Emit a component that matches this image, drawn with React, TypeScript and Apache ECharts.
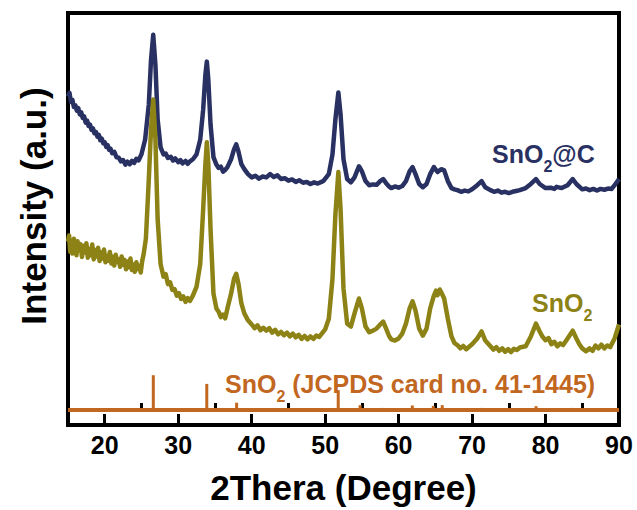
import React, { useEffect, useRef } from "react";
import * as echarts from "echarts";

// ---- Data: [2θ (degree), intensity (a.u.)] ----
const snO2CPattern: number[][] = [
  [15.0, 79.7], [15.2, 80.6], [15.4, 78.4], [15.6, 78.9], [15.8, 77.2], [16.0, 77.6], [16.2, 76.3], [16.4, 76.9],
  [16.6, 75.4], [16.8, 75.9], [17.0, 74.5], [17.2, 74.9], [17.4, 73.4], [17.6, 73.9], [17.8, 72.6], [18.0, 72.9],
  [18.2, 71.6], [18.4, 72.0], [18.6, 70.8], [18.8, 71.1], [19.0, 70.0], [19.2, 70.4], [19.4, 69.1], [19.6, 69.5],
  [19.8, 68.4], [20.0, 68.6], [20.2, 67.5], [20.4, 67.9], [20.6, 66.8], [20.8, 67.0], [21.0, 66.0], [21.3, 66.3],
  [21.6, 65.0], [21.9, 64.9], [22.2, 64.0], [22.5, 64.3], [22.8, 63.2], [23.1, 63.9], [23.4, 63.3], [23.7, 64.1],
  [24.0, 63.6], [24.3, 64.6], [24.6, 64.2], [25.0, 65.7], [25.5, 69.3], [26.0, 77.8], [26.3, 88.6], [26.6, 94.7],
  [26.9, 87.4], [27.2, 74.2], [27.6, 67.4], [28.0, 65.7], [28.3, 65.9], [28.6, 64.8], [29.0, 65.1], [29.3, 64.2],
  [29.6, 64.7], [30.0, 63.8], [30.3, 64.3], [30.6, 63.5], [31.0, 64.1], [31.3, 63.4], [31.6, 64.0], [32.0, 64.5],
  [32.5, 65.7], [33.0, 69.3], [33.4, 76.6], [33.7, 85.0], [33.9, 88.2], [34.1, 83.8], [34.4, 73.0], [34.8, 65.0],
  [35.2, 63.2], [35.5, 62.4], [35.8, 62.7], [36.1, 61.5], [36.4, 61.9], [36.7, 62.6], [37.2, 64.5], [37.6, 66.9],
  [37.9, 68.1], [38.2, 66.4], [38.6, 63.3], [39.0, 62.1], [39.5, 60.9], [40.0, 60.1], [40.5, 60.5], [41.0, 59.8],
  [41.5, 60.3], [42.0, 60.1], [42.5, 60.9], [43.0, 60.2], [43.5, 60.6], [44.0, 59.7], [44.5, 59.9], [45.0, 59.3],
  [45.5, 59.6], [46.0, 59.0], [46.5, 59.4], [47.0, 58.8], [47.5, 59.0], [48.0, 58.5], [48.5, 58.9], [49.0, 58.6],
  [49.5, 59.0], [49.8, 59.3], [50.5, 60.9], [51.0, 65.7], [51.4, 74.2], [51.8, 80.7], [52.1, 75.4], [52.5, 64.5],
  [53.0, 59.7], [53.5, 58.9], [54.0, 60.1], [54.6, 62.8], [55.0, 61.6], [55.5, 59.2], [56.0, 58.2], [56.5, 58.4],
  [57.0, 58.3], [57.5, 59.2], [57.9, 59.7], [58.3, 58.7], [58.7, 57.9], [59.0, 57.5], [59.5, 57.9], [60.0, 57.6],
  [60.5, 58.0], [61.0, 59.2], [61.5, 61.6], [61.9, 62.6], [62.3, 60.9], [62.8, 58.5], [63.3, 57.7], [63.8, 58.5],
  [64.3, 60.9], [64.8, 62.6], [65.3, 61.4], [65.8, 62.1], [66.2, 61.8], [66.7, 59.2], [67.2, 57.5], [67.6, 57.2],
  [68.0, 57.0], [68.5, 56.6], [69.0, 56.9], [69.5, 56.7], [70.0, 57.2], [70.7, 58.2], [71.3, 59.2], [71.8, 57.7],
  [72.5, 57.0], [73.0, 56.6], [73.5, 56.9], [74.0, 56.4], [74.5, 56.6], [75.0, 56.3], [75.5, 56.6], [76.0, 56.8],
  [76.5, 57.0], [77.3, 57.5], [78.0, 58.5], [78.7, 59.7], [79.2, 58.5], [80.0, 57.5], [80.7, 57.6], [81.2, 57.3],
  [81.5, 57.8], [82.2, 57.5], [83.0, 58.2], [83.7, 59.7], [84.2, 58.5], [85.0, 57.2], [85.5, 57.4], [86.0, 57.0],
  [86.5, 57.3], [87.0, 56.9], [87.5, 57.3], [88.0, 57.1], [88.5, 57.4], [89.0, 57.3], [89.4, 58.2], [90.0, 59.7],
];

const snO2Pattern: number[][] = [
  [15.0, 44.5], [15.15, 46.0], [15.3, 42.0], [15.45, 44.8], [15.6, 41.6], [15.8, 45.2], [16.0, 43.0], [16.15, 41.2],
  [16.3, 44.6], [16.5, 42.4], [16.7, 43.9], [16.9, 40.8], [17.1, 43.5], [17.3, 41.9], [17.5, 44.1], [17.7, 40.6],
  [17.9, 42.7], [18.1, 41.2], [18.3, 43.8], [18.5, 40.2], [18.7, 42.5], [18.9, 40.9], [19.1, 43.0], [19.3, 39.8],
  [19.5, 41.9], [19.7, 40.4], [19.9, 42.6], [20.1, 39.5], [20.3, 41.1], [20.5, 39.9], [20.7, 42.0], [20.9, 39.2],
  [21.1, 40.8], [21.3, 38.7], [21.5, 41.3], [21.7, 39.6], [21.9, 40.2], [22.1, 38.4], [22.3, 40.9], [22.5, 38.9],
  [22.7, 40.1], [22.9, 37.8], [23.1, 39.7], [23.3, 38.3], [23.5, 40.4], [23.7, 37.6], [23.9, 39.0], [24.1, 37.2],
  [24.3, 39.5], [24.5, 37.9], [24.7, 38.6], [24.9, 37.0], [25.1, 39.8], [25.3, 41.5], [25.6, 45.2], [26.0, 59.7],
  [26.3, 71.7], [26.6, 79.0], [26.9, 69.3], [27.2, 50.0], [27.6, 39.1], [28.0, 36.0], [28.3, 36.6], [28.6, 34.2],
  [28.9, 34.6], [29.2, 32.8], [29.5, 33.0], [29.8, 31.4], [30.1, 32.0], [30.4, 30.6], [30.7, 31.2], [31.0, 29.9],
  [31.3, 30.8], [31.6, 30.1], [32.0, 31.4], [32.5, 33.6], [33.0, 39.1], [33.4, 52.4], [33.7, 63.3], [33.9, 68.6],
  [34.1, 63.3], [34.4, 47.6], [34.8, 31.9], [35.2, 28.3], [35.5, 27.5], [35.8, 26.2], [36.1, 26.8], [36.4, 25.9],
  [36.7, 28.3], [37.2, 31.9], [37.6, 35.5], [37.9, 36.7], [38.2, 34.3], [38.6, 29.5], [39.0, 27.1], [39.5, 25.4],
  [40.0, 24.4], [40.4, 23.5], [40.8, 24.2], [41.2, 23.0], [41.6, 23.6], [42.0, 22.9], [42.4, 23.5], [42.8, 22.4],
  [43.2, 23.1], [43.6, 22.0], [44.0, 22.6], [44.4, 21.8], [44.8, 22.4], [45.2, 21.5], [45.6, 22.2], [46.0, 21.3],
  [46.4, 21.9], [46.8, 20.9], [47.2, 21.6], [47.6, 20.8], [48.0, 21.5], [48.4, 20.9], [48.8, 21.7], [49.2, 21.4],
  [49.6, 22.3], [50.0, 23.2], [50.5, 25.8], [51.0, 35.5], [51.4, 51.2], [51.8, 61.4], [52.1, 52.4], [52.5, 33.1],
  [53.0, 24.6], [53.5, 23.9], [54.0, 27.1], [54.6, 30.7], [55.0, 28.3], [55.5, 23.9], [56.0, 22.5], [56.5, 22.9],
  [57.0, 23.4], [57.5, 24.4], [57.9, 25.1], [58.3, 23.4], [58.7, 21.6], [59.0, 20.8], [59.5, 20.5], [60.0, 21.0],
  [60.5, 22.2], [61.0, 24.6], [61.5, 28.3], [61.9, 30.0], [62.3, 27.8], [62.8, 23.4], [63.3, 21.7], [63.8, 23.4],
  [64.3, 28.3], [64.8, 31.4], [65.1, 32.6], [65.3, 31.5], [65.6, 32.9], [65.8, 32.2], [66.2, 30.7], [66.7, 25.8],
  [67.2, 21.5], [67.6, 19.9], [68.0, 19.4], [68.4, 18.6], [68.8, 19.2], [69.2, 18.4], [69.6, 19.0], [70.0, 19.6],
  [70.7, 21.0], [71.3, 22.7], [71.8, 20.5], [72.5, 19.1], [72.9, 18.3], [73.3, 18.9], [73.7, 18.0], [74.1, 18.6],
  [74.5, 17.8], [74.9, 18.4], [75.3, 17.7], [75.7, 18.5], [76.1, 18.2], [76.5, 18.8], [77.3, 19.1], [78.0, 21.5],
  [78.7, 24.6], [79.2, 22.7], [79.6, 21.4], [80.0, 20.6], [80.4, 21.1], [80.8, 19.6], [81.2, 20.2], [81.6, 19.1],
  [82.0, 19.8], [82.4, 19.4], [83.0, 21.0], [83.7, 22.9], [84.2, 21.0], [84.6, 19.6], [85.0, 18.6], [85.5, 17.9],
  [86.0, 18.6], [86.4, 18.0], [86.8, 19.3], [87.2, 18.6], [87.6, 19.5], [88.0, 18.6], [88.4, 19.3], [88.8, 18.9],
  [89.4, 21.0], [90.0, 24.4],
];

// JCPDS 41-1445 reference pattern: 2θ positions and relative intensities (%)
const refAngles = [26.61, 33.89, 37.95, 38.97, 42.64, 51.78, 54.76, 57.82, 61.87, 62.59, 64.72, 65.94, 71.27, 74.49, 78.71, 81.1, 83.71, 85.63, 87.25];
const refIntensity = [100, 75, 21, 4, 1, 57, 14, 6, 13, 5, 12, 14, 6, 2, 11, 2, 6, 2, 2];
const refRange = [15, 90];

const majorTicks = [20, 30, 40, 50, 60, 70, 80, 90];
const minorTicks = [25, 35, 45, 55, 65, 75, 85];

// ---- Styles ----
const FONT = "'Liberation Sans', Arial, Helvetica, sans-serif";
const NAVY = "#293162";
const OLIVE = "#8C8215";
const ORANGE = "#C2671F";

const richFor = (color: string) => ({
  m: { fontSize: 25, fontWeight: "bold", fontFamily: FONT, fill: color, lineHeight: 26, verticalAlign: "top" },
  s: { fontSize: 16, fontWeight: "bold", fontFamily: FONT, fill: color, lineHeight: 16, padding: [17, 0, 0, 0], verticalAlign: "top" },
});

export default function App() {
  const ref = useRef<HTMLDivElement>(null);

  useEffect(() => {
    if (!ref.current) return;
    const chart = echarts.init(ref.current, undefined, { renderer: "svg" });

    const option: any = {
      animation: false,
      backgroundColor: "#ffffff",
      grid: {
        left: 68,
        right: 18,
        top: 13,
        bottom: 83,
        show: true,
        borderColor: "#000",
        borderWidth: 4,
        backgroundColor: "transparent",
      },
      xAxis: [
        {
          type: "value",
          min: 15,
          max: 90,
          position: "bottom",
          name: "2Thera (Degree)",
          nameLocation: "middle",
          nameGap: 45,
          nameTextStyle: { fontSize: 35, fontWeight: "bold", fontFamily: FONT, color: "#000" },
          axisLine: { show: false },
          splitLine: { show: false },
          axisTick: {
            show: true,
            inside: true,
            length: 11,
            customValues: majorTicks,
            lineStyle: { color: "#000", width: 3 },
          },
          axisLabel: {
            customValues: majorTicks,
            fontSize: 25,
            fontWeight: "bold",
            fontFamily: FONT,
            color: "#000",
            margin: 7,
          },
        },
        {
          type: "value",
          min: 15,
          max: 90,
          position: "bottom",
          axisLine: { show: false },
          splitLine: { show: false },
          axisLabel: { show: false },
          axisTick: {
            show: true,
            inside: true,
            length: 7,
            customValues: minorTicks,
            lineStyle: { color: "#000", width: 3 },
          },
        },
      ],
      yAxis: [
        { type: "value", min: 0, max: 100, show: false },
        { type: "value", min: -43, max: 1140, show: false },
      ],
      series: [
        {
          name: "SnO2@C",
          type: "line",
          xAxisIndex: 0,
          yAxisIndex: 0,
          showSymbol: false,
          symbol: "none",
          data: snO2CPattern,
          lineStyle: { color: NAVY, width: 4.5, join: "round" },
          z: 3,
        },
        {
          name: "SnO2",
          type: "line",
          xAxisIndex: 0,
          yAxisIndex: 0,
          showSymbol: false,
          symbol: "none",
          data: snO2Pattern,
          lineStyle: { color: OLIVE, width: 4.5, join: "round" },
          z: 4,
        },
        {
          name: "JCPDS baseline",
          type: "line",
          xAxisIndex: 0,
          yAxisIndex: 1,
          showSymbol: false,
          symbol: "none",
          data: refRange.map((a) => [a, 0]),
          lineStyle: { color: ORANGE, width: 4 },
          z: 2,
        },
        {
          name: "JCPDS 41-1445",
          type: "custom",
          xAxisIndex: 0,
          yAxisIndex: 1,
          data: refAngles.map((a, i) => [a, refIntensity[i]]),
          encode: { x: 0, y: 1 },
          renderItem: (_params: any, api: any) => {
            const x = api.value(0);
            const h = api.value(1);
            const p0 = api.coord([x, 0]);
            const p1 = api.coord([x, h]);
            return {
              type: "line",
              shape: { x1: p0[0], y1: p0[1], x2: p1[0], y2: p1[1] },
              style: { stroke: ORANGE, lineWidth: 3 },
            };
          },
          z: 2,
        },
      ],
      graphic: [
        {
          type: "text",
          x: 33,
          y: 206,
          rotation: Math.PI / 2,
          style: {
            text: "Intensity (a.u.)",
            font: `bold 35px ${FONT}`,
            fill: "#000",
            align: "center",
            verticalAlign: "middle",
          },
        },
        {
          type: "text",
          x: 492,
          y: 141,
          z: 10,
          style: {
            text: "{m|SnO}{s|2}{m|@C}",
            rich: richFor(NAVY),
            fill: NAVY,
            verticalAlign: "top",
          },
        },
        {
          type: "text",
          x: 532,
          y: 290,
          z: 10,
          style: {
            text: "{m|SnO}{s|2}",
            rich: richFor(OLIVE),
            fill: OLIVE,
            verticalAlign: "top",
          },
        },
        {
          type: "text",
          x: 225,
          y: 371,
          z: 10,
          style: {
            text: "{m|SnO}{s|2}{m| (JCPDS card no. 41-1445)}",
            rich: richFor(ORANGE),
            fill: ORANGE,
            verticalAlign: "top",
          },
        },
      ],
    };

    chart.setOption(option);
    return () => chart.dispose();
  }, []);

  return (
    <div
      ref={ref}
      style={{ position: "fixed", left: 0, top: 0, width: 637, height: 510, background: "#fff" }}
    />
  );
}
